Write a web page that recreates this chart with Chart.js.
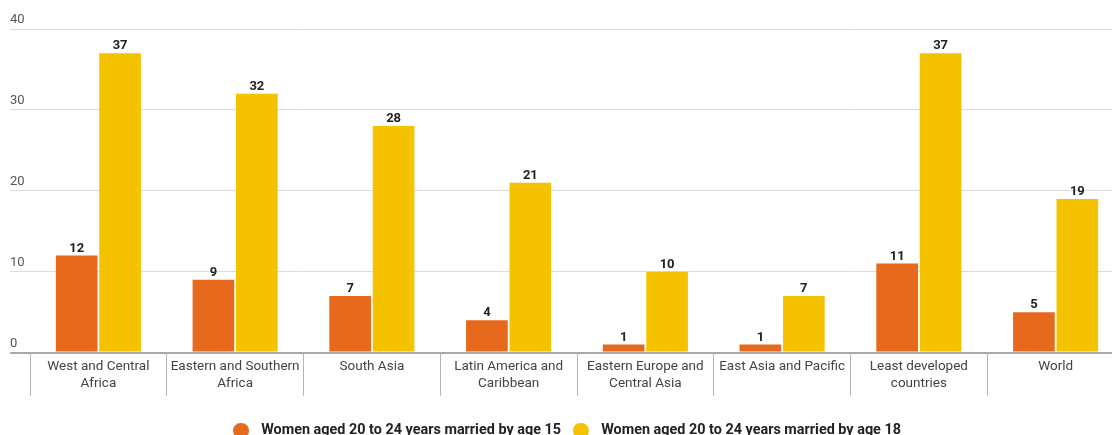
<!DOCTYPE html>
<html>
<head>
<meta charset="utf-8">
<title>Child marriage by region</title>
<script src="https://cdn.jsdelivr.net/npm/chart.js@4"></script>
<style>
  html, body { margin: 0; padding: 0; background: #fff; overflow: hidden; }
  #wrap { width: 1112px; height: 435px; overflow: hidden; }
  canvas { display: block; }
</style>
</head>
<body>
<div id="wrap"><canvas id="chart" width="1124" height="448"></canvas></div>
<script>
const regions = [
  ['West and Central', 'Africa'],
  ['Eastern and Southern', 'Africa'],
  'South Asia',
  ['Latin America and', 'Caribbean'],
  ['Eastern Europe and', 'Central Asia'],
  'East Asia and Pacific',
  ['Least developed', 'countries'],
  'World'
];
const marriedBy15 = [12, 9, 7, 4, 1, 1, 11, 5];
const marriedBy18 = [37, 32, 28, 21, 10, 7, 37, 19];
const seriesNames = [
  'Women aged 20 to 24 years married by age 15',
  'Women aged 20 to 24 years married by age 18'
];
const yTicks = [0, 10, 20, 30, 40];

const ORANGE = '#E6691D';
const YELLOW = '#F5C200';
const FONT = 'Roboto, "Noto Sans", sans-serif';

// legend dot: circle sits at the left of a wider box so the text gets some air
function legendDot(color) {
  const c = document.createElement('canvas');
  c.width = 21;
  c.height = 16;
  const g = c.getContext('2d');
  g.fillStyle = color;
  g.beginPath();
  g.arc(8, 8, 8, 0, Math.PI * 2);
  g.fill();
  return c;
}

// value labels above each bar
const barValues = {
  id: 'barValues',
  afterDatasetsDraw(chart) {
    const ctx = chart.ctx;
    ctx.save();
    ctx.font = 'bold 13px ' + FONT;
    ctx.fillStyle = '#222';
    ctx.textAlign = 'center';
    ctx.textBaseline = 'alphabetic';
    chart.data.datasets.forEach((ds, i) => {
      chart.getDatasetMeta(i).data.forEach((bar, j) => {
        ctx.fillText(String(ds.data[j]), bar.x, bar.y - 4);
      });
    });
    ctx.restore();
  }
};

new Chart(document.getElementById('chart'), {
  type: 'bar',
  data: {
    labels: regions,
    datasets: [
      { label: seriesNames[0], data: marriedBy15, backgroundColor: ORANGE, pointStyle: legendDot(ORANGE) },
      { label: seriesNames[1], data: marriedBy18, backgroundColor: YELLOW, pointStyle: legendDot(YELLOW) }
    ]
  },
  options: {
    responsive: false,
    animation: false,
    devicePixelRatio: 1,
    categoryPercentage: 0.635,
    barPercentage: 0.96,
    layout: { padding: { top: 29, left: 10, right: 0, bottom: 0 } },
    plugins: {
      tooltip: { enabled: false },
      legend: {
        position: 'bottom',
        labels: {
          usePointStyle: true,
          pointStyleWidth: 21,
          boxHeight: 14,
          padding: 12,
          color: '#222',
          font: { family: FONT, size: 14.4, weight: 'bold' }
        }
      }
    },
    scales: {
      y: {
        min: 0,
        max: 40,
        afterFit(scale) { scale.width = 20; },
        afterBuildTicks(scale) { scale.ticks = yTicks.map(v => ({ value: v })); },
        border: { display: false },
        grid: {
          drawTicks: true,
          tickLength: 20,
          color: c => (c.tick && c.tick.value === 0 ? '#a8a8a8' : '#dcdcdc'),
          lineWidth: c => (c.tick && c.tick.value === 0 ? 2 : 1)
        },
        ticks: {
          crossAlign: 'far',
          padding: 0,
          labelOffset: -9,
          color: '#555',
          font: { family: FONT, size: 13 }
        }
      },
      x: {
        afterFit(scale) { scale.height = 59; },
        border: { display: false },
        grid: {
          offset: true,
          drawOnChartArea: false,
          drawTicks: true,
          tickLength: 43,
          color: '#b4b4b4',
          lineWidth: 1
        },
        ticks: {
          autoSkip: false,
          maxRotation: 0,
          padding: -37,
          color: '#444',
          font: { family: FONT, size: 13.5, lineHeight: 1.22 }
        }
      }
    }
  },
  plugins: [barValues]
});
</script>
</body>
</html>
